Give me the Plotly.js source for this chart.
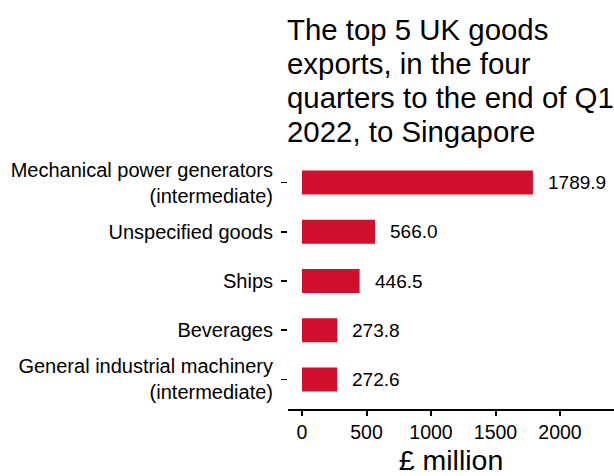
<!DOCTYPE html>
<html>
<head>
<meta charset="utf-8">
<script src="https://cdn.plot.ly/plotly-3.0.1.min.js"></script>
<style>html,body{margin:0;padding:0;background:#fff;}#chart{width:614px;height:476px;}</style>
</head>
<body>
<div id="chart"></div>
<script>
const categories = [
  "Mechanical power generators<br>(intermediate)",
  "Unspecified goods",
  "Ships",
  "Beverages",
  "General industrial machinery<br>(intermediate)"
];
const values = [1789.9, 566.0, 446.5, 273.8, 272.6];
const valueLabels = ["1789.9", "566.0", "446.5", "273.8", "272.6"];
const tickValues = [0, 500, 1000, 1500, 2000];
const titleLines = [
  "The top 5 UK goods",
  "exports, in the four",
  "quarters to the end of Q1",
  "2022, to Singapore"
];

const font = "Liberation Sans, Arial, sans-serif";

const trace = {
  type: "bar",
  orientation: "h",
  x: values,
  y: categories,
  width: 0.49,
  marker: {color: "#cf102d"},
  hoverinfo: "none"
};

const annotations = values.map((v, i) => ({
  x: v, y: categories[i], xref: "x", yref: "y",
  text: valueLabels[i], showarrow: false,
  xanchor: "left", yanchor: "middle", xshift: 13,
  font: {family: font, size: 19, color: "#000"}
}));

// title lines, stacked with the reference's tight line spacing
const plotTop = 153, plotH = 256;
titleLines.forEach((t, i) => {
  const py = 29 + 34 * i;
  annotations.push({
    x: 0, xref: "paper", xanchor: "left", xshift: -3,
    y: (plotTop + plotH - py) / plotH, yref: "paper", yanchor: "middle",
    text: t, showarrow: false, align: "left",
    font: {family: font, size: 29.4, color: "#000"}
  });
});

const layout = {
  width: 614, height: 476,
  margin: {l: 288, r: 0, t: 153, b: 67},
  paper_bgcolor: "#fff", plot_bgcolor: "#fff",
  showlegend: false,
  xaxis: {
    range: [-108.5, 2418.6],
    tickvals: tickValues,
    ticktext: tickValues.map(String),
    ticks: "outside", ticklen: 5, tickwidth: 2, tickcolor: "#000",
    showline: true, linecolor: "#000", linewidth: 2,
    showgrid: false, zeroline: false,
    tickfont: {family: font, size: 19.5, color: "#000"},
    title: {text: "£ million", font: {family: font, size: 28.5, color: "#000"}, standoff: 12}
  },
  yaxis: {
    type: "category",
    categoryorder: "array", categoryarray: categories,
    range: [4.6, -0.6],
    ticks: "outside", ticklen: 6, tickwidth: 1.5, tickcolor: "#000",
    showline: false, showgrid: false, zeroline: false,
    ticklabelstandoff: 4,
    tickfont: {family: font, size: 20, color: "#000"}
  },
  annotations: annotations
};

Plotly.newPlot("chart", [trace], layout, {displayModeBar: false, staticPlot: true});
</script>
</body>
</html>
